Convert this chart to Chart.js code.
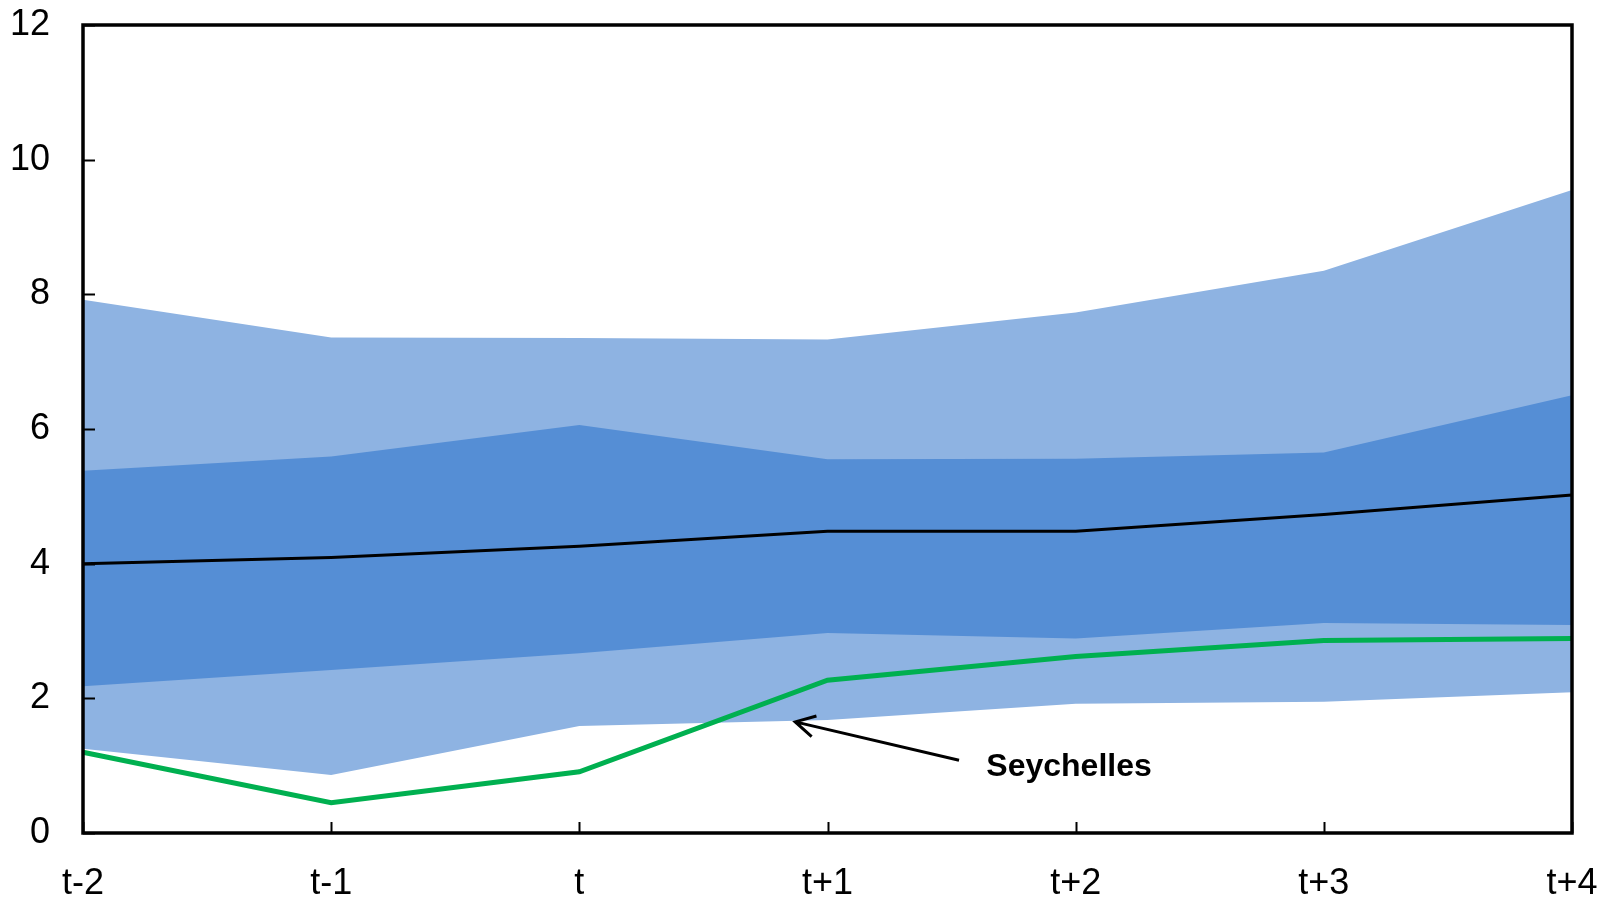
<!DOCTYPE html>
<html>
<head>
<meta charset="utf-8">
<script src="https://cdn.jsdelivr.net/npm/chart.js@4/dist/chart.umd.min.js"></script>
<style>
  html, body { margin: 0; padding: 0; background: #fff; }
  #wrap { width: 1600px; height: 899px; }
</style>
</head>
<body>
<div id="wrap"><canvas id="fanChart" width="1600" height="899"></canvas></div>
<script>
const periods = ['t-2', 't-1', 't', 't+1', 't+2', 't+3', 't+4'];
const yTicks = [0, 2, 4, 6, 8, 10, 12];

// distribution bands and median
const outerUpper = [7.92, 7.36, 7.35, 7.33, 7.73, 8.35, 9.55];
const innerUpper = [5.38, 5.59, 6.06, 5.55, 5.56, 5.65, 6.50];
const median     = [4.00, 4.09, 4.26, 4.48, 4.48, 4.73, 5.02];
const innerLower = [2.18, 2.42, 2.67, 2.97, 2.89, 3.12, 3.09];
const outerLower = [1.25, 0.86, 1.59, 1.68, 1.92, 1.95, 2.09];

// country line
const seychelles = [1.20, 0.45, 0.91, 2.27, 2.62, 2.86, 2.89];

const labelText = 'Seychelles';
// annotation anchors, in data units (category index, value)
const arrowTip = [2.87, 1.65];
const arrowTail = [3.53, 1.08];
const labelAt = [3.64, 0.98];

const lightBlue = '#8EB3E2';
const darkBlue = '#558ED5';

const band = (data, fill, color) => ({
    data: data,
    fill: fill,
    backgroundColor: color,
    borderWidth: 0,
    pointRadius: 0,
    tension: 0
});

// border, inward ticks and the arrow label
const framePlugin = {
    id: 'frame',
    afterDatasetsDraw(chart) {
        const {ctx, chartArea: a, scales: {x, y}} = chart;
        ctx.save();
        ctx.strokeStyle = '#000';
        ctx.lineWidth = 2;
        yTicks.forEach(v => {
            const py = Math.round(y.getPixelForValue(v)) + 0.5;
            ctx.beginPath();
            ctx.moveTo(a.left, py);
            ctx.lineTo(a.left + 12, py);
            ctx.stroke();
        });
        periods.forEach((p, i) => {
            const px = Math.round(x.getPixelForValue(i)) + 0.5;
            ctx.beginPath();
            ctx.moveTo(px, a.bottom);
            ctx.lineTo(px, a.bottom - 11);
            ctx.stroke();
        });
        ctx.lineWidth = 3.5;
        ctx.strokeRect(a.left, a.top, a.right - a.left, a.bottom - a.top);

        const tx = x.getPixelForValue(arrowTip[0]);
        const ty = y.getPixelForValue(arrowTip[1]);
        const sx = x.getPixelForValue(arrowTail[0]);
        const sy = y.getPixelForValue(arrowTail[1]);
        ctx.lineWidth = 3;
        ctx.beginPath();
        ctx.moveTo(sx, sy);
        ctx.lineTo(tx, ty);
        const ang = Math.atan2(sy - ty, sx - tx);
        const head = 22, spread = 0.5;
        ctx.moveTo(tx + head * Math.cos(ang - spread), ty + head * Math.sin(ang - spread));
        ctx.lineTo(tx, ty);
        ctx.lineTo(tx + head * Math.cos(ang + spread), ty + head * Math.sin(ang + spread));
        ctx.stroke();

        ctx.fillStyle = '#000';
        ctx.font = 'bold 32px "Liberation Sans", Arial, sans-serif';
        ctx.textAlign = 'left';
        ctx.textBaseline = 'middle';
        ctx.fillText(labelText, x.getPixelForValue(labelAt[0]), y.getPixelForValue(labelAt[1]));
        ctx.restore();
    }
};

const tickFont = {family: '"Liberation Sans", Arial, sans-serif', size: 36};

new Chart(document.getElementById('fanChart').getContext('2d'), {
    type: 'line',
    data: {
        labels: periods,
        datasets: [
            {
                data: median,
                borderColor: '#000',
                borderWidth: 3,
                pointRadius: 0,
                fill: false,
                tension: 0
            },
            {
                data: seychelles,
                borderColor: '#00B050',
                borderWidth: 5,
                pointRadius: 0,
                fill: false,
                tension: 0
            },
            band(innerUpper, '+1', darkBlue),
            band(innerLower, false, darkBlue),
            band(outerUpper, '+1', lightBlue),
            band(outerLower, false, lightBlue)
        ]
    },
    options: {
        responsive: false,
        animation: false,
        layout: {padding: {top: 25, right: 28, left: 0, bottom: 0}},
        plugins: {
            legend: {display: false},
            tooltip: {enabled: false}
        },
        scales: {
            x: {
                offset: false,
                grid: {display: false, drawTicks: false},
                border: {display: false},
                ticks: {color: '#000', font: tickFont, padding: 29, maxRotation: 0},
                afterFit: s => {
                    s.height = 66;
                    s.paddingLeft = 0;
                    s.paddingRight = 0;
                }
            },
            y: {
                min: 0,
                max: 12,
                grid: {display: false, drawTicks: false},
                border: {display: false},
                ticks: {
                    color: '#000',
                    font: tickFont,
                    padding: 33,
                    stepSize: 2
                },
                afterFit: s => {
                    s.width = 83;
                    s.paddingTop = 0;
                    s.paddingBottom = 0;
                }
            }
        }
    },
    plugins: [framePlugin]
});
</script>
</body>
</html>
